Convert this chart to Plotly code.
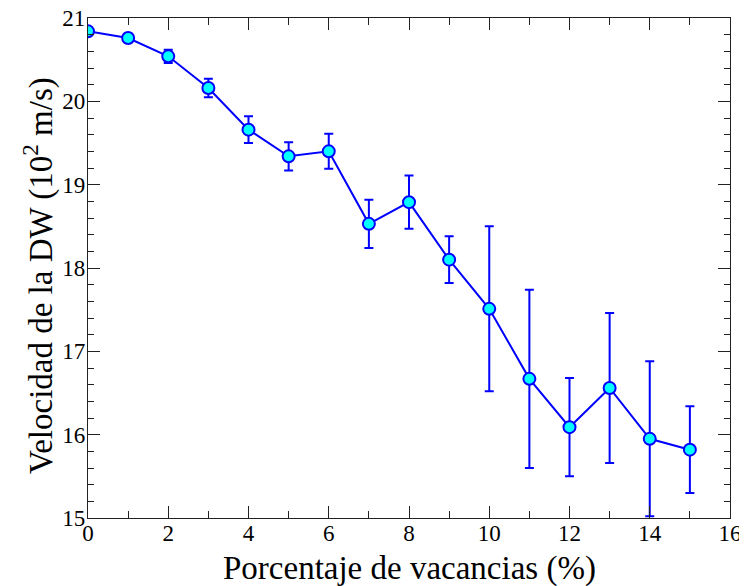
import plotly.graph_objects as go

vacancias = [0, 1, 2, 3, 4, 5, 6, 7, 8, 9, 10, 11, 12, 13, 14, 15]
velocidad = [20.84, 20.76, 20.54, 20.16, 19.66, 19.34, 19.40, 18.53,
             18.79, 18.10, 17.51, 16.67, 16.09, 16.56, 15.95, 15.82]
error = [0.0, 0.05, 0.08, 0.11, 0.16, 0.17, 0.21, 0.29,
         0.32, 0.28, 0.99, 1.07, 0.59, 0.90, 0.93, 0.52]

x_ticks = [0, 2, 4, 6, 8, 10, 12, 14, 16]
y_ticks = [15, 16, 17, 18, 19, 20, 21]
x_title = "Porcentaje de vacancias (%)"
y_title = "Velocidad de la DW (10<sup>2</sup> m/s)"

fig = go.Figure()
fig.add_trace(go.Scatter(
    x=vacancias, y=velocidad,
    mode="lines+markers",
    line=dict(color="#0000ff", width=2),
    marker=dict(size=12, color="#00ffff", line=dict(color="#0000ff", width=2)),
    error_y=dict(type="data", array=error, visible=True, color="#0000ff",
                 thickness=2, width=4.5),
    showlegend=False,
))

font_family = "Liberation Serif, Times New Roman, serif"
axis_common = dict(
    showline=True, linecolor="#222222", linewidth=1.3, mirror="ticks",
    ticks="inside", ticklen=12, tickwidth=1.2, tickcolor="#222222",
    showgrid=False, zeroline=False, automargin=False,
    ticklabeloverflow="allow",
    tickfont=dict(family=font_family, size=23, color="black"),
)

fig.update_xaxes(
    range=[0, 16], tickvals=x_ticks, ticktext=[str(v) for v in x_ticks],
    ticklabelstandoff=-6,
    minor=dict(ticks="inside", ticklen=7, tickwidth=1.2, tickcolor="#222222", dtick=1, tick0=0, showgrid=False),
    **axis_common,
)
fig.update_yaxes(
    range=[15, 21], tickvals=y_ticks, ticktext=[str(v) for v in y_ticks],
    ticklabelstandoff=-3,
    minor=dict(ticks="inside", ticklen=6, tickwidth=1.2, tickcolor="#222222", dtick=0.2, tick0=15, showgrid=False),
    **axis_common,
)

fig.add_annotation(
    text=x_title, xref="paper", yref="paper", x=0.5, y=0, yshift=-50,
    xanchor="center", yanchor="middle", showarrow=False,
    font=dict(family=font_family, size=33, color="black"),
)
fig.add_annotation(
    text=y_title, xref="paper", yref="paper", x=0, y=0.5, xshift=-50, yshift=-8,
    xanchor="center", yanchor="middle", textangle=-90, showarrow=False,
    font=dict(family=font_family, size=33, color="black"),
)

# The page body keeps its default 8px margin, so the figure is sized to fit the window.
fig.update_layout(
    width=739, height=578,
    margin=dict(l=80, r=17, t=10, b=68),
    paper_bgcolor="white", plot_bgcolor="white",
)

fig.write_html("out.html")
